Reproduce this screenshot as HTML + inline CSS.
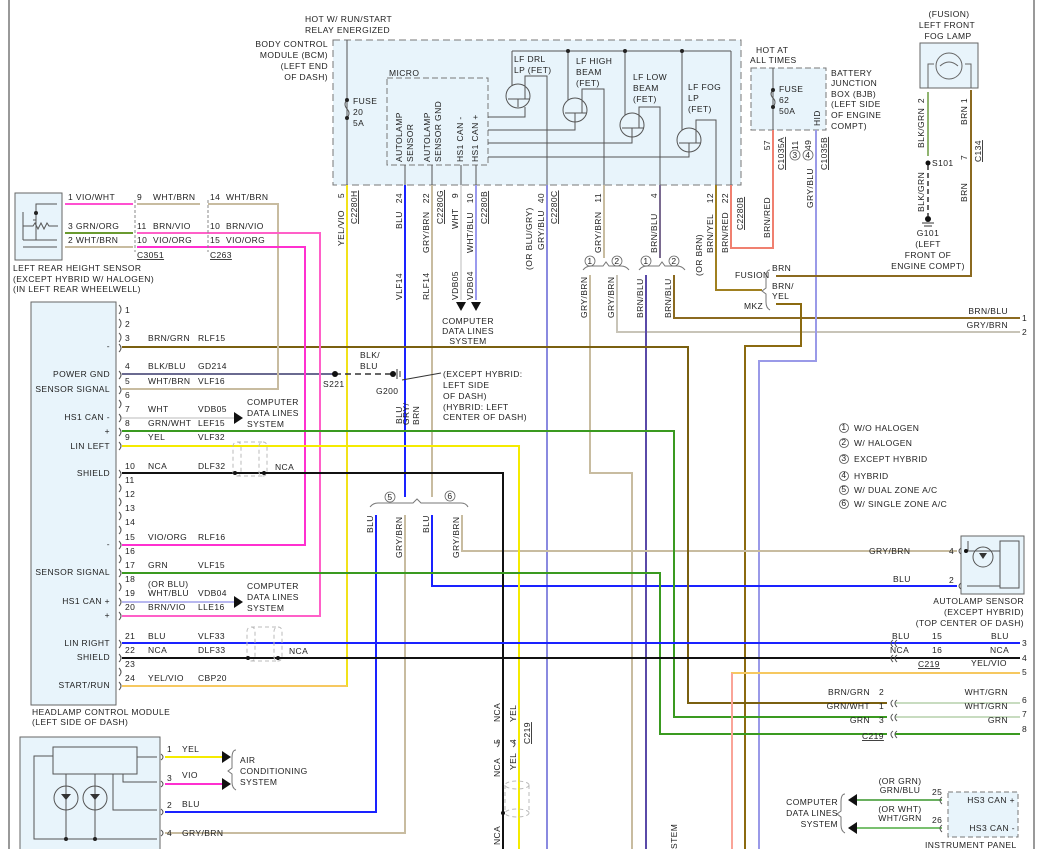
<!DOCTYPE html>
<html><head><meta charset="utf-8"><style>
html,body{margin:0;padding:0;background:#fff}
svg{display:block}
text{font-family:"Liberation Sans",sans-serif;font-size:8.5px;fill:#222;letter-spacing:0.4px}
.r{text-anchor:end}
.m{text-anchor:middle}
.u{text-decoration:underline}
</style></head><body>
<svg width="1039" height="849" viewBox="0 0 1039 849" xmlns="http://www.w3.org/2000/svg">
<rect width="1039" height="849" fill="#fff"/>
<line x1="9" y1="0" x2="9" y2="849" stroke="#333" stroke-width="1"/>
<line x1="1034" y1="0" x2="1034" y2="849" stroke="#333" stroke-width="1"/>

<!-- BCM box -->
<rect x="333" y="40" width="408" height="145" fill="#e8f4fb" stroke="#777" stroke-dasharray="7,4"/>
<rect x="387" y="78" width="101" height="87" fill="none" stroke="#777" stroke-dasharray="6,3"/>
<text x="305" y="22">HOT W/ RUN/START</text>
<text x="305" y="33">RELAY ENERGIZED</text>
<text class="r" x="328" y="47">BODY CONTROL</text>
<text class="r" x="328" y="58">MODULE (BCM)</text>
<text class="r" x="328" y="69">(LEFT END</text>
<text class="r" x="328" y="80">OF DASH)</text>
<text x="389" y="76">MICRO</text>
<g stroke="#555" fill="none" stroke-width="1">
<line x1="347" y1="40" x2="347" y2="185"/>
<path d="M347 100 q-4 4 0 9 q4 4 0 9"/>
<line x1="512" y1="51" x2="731" y2="51"/><line x1="731" y1="51" x2="731" y2="185"/>
<line x1="512" y1="51" x2="512" y2="86"/>
<line x1="568" y1="51" x2="568" y2="100"/>
<line x1="625" y1="51" x2="625" y2="115"/>
<line x1="682" y1="51" x2="682" y2="130"/>
<circle cx="518" cy="96" r="12"/><circle cx="575" cy="110" r="12"/><circle cx="632" cy="125" r="12"/><circle cx="689" cy="140" r="12"/>
<path d="M508 99h22M518 99v8M525 99v-23h22v109"/>
<path d="M565 113h22M575 113v10M582 113v-24h22v96"/>
<path d="M622 128h22M632 128v10M639 128v-21h21v78"/>
<path d="M679 143h22M689 143v10M696 143v-23h20v65"/>
<path d="M488 117h37v-10M488 130h87v-7M488 143h144v-5M488 157h201v-4"/>
<path d="M405 165v20M432 165v20M461 165v20M476 165v20"/>
</g>
<g fill="#222"><circle cx="347" cy="100" r="2"/><circle cx="347" cy="118" r="2"/><circle cx="568" cy="51" r="2"/><circle cx="625" cy="51" r="2"/><circle cx="682" cy="51" r="2"/></g>
<text x="353" y="104">FUSE</text><text x="353" y="115">20</text><text x="353" y="126">5A</text>
<text x="514" y="62">LF DRL</text><text x="514" y="73">LP (FET)</text>
<text x="576" y="64">LF HIGH</text><text x="576" y="75">BEAM</text><text x="576" y="86">(FET)</text>
<text x="633" y="80">LF LOW</text><text x="633" y="91">BEAM</text><text x="633" y="102">(FET)</text>
<text x="688" y="90">LF FOG</text><text x="688" y="101">LP</text><text x="688" y="112">(FET)</text>
<g>
<text transform="translate(402,162) rotate(-90)">AUTOLAMP</text><text transform="translate(413,162) rotate(-90)">SENSOR</text>
<text transform="translate(430,162) rotate(-90)">AUTOLAMP</text><text transform="translate(441,162) rotate(-90)">SENSOR GND</text>
<text transform="translate(463,162) rotate(-90)">HS1 CAN -</text><text transform="translate(478,162) rotate(-90)">HS1 CAN +</text>
</g>

<!-- Battery junction box -->
<rect x="751" y="68" width="75" height="62" fill="#e8f4fb" stroke="#777" stroke-dasharray="6,3"/>
<text x="756" y="53">HOT AT</text><text x="750" y="63">ALL TIMES</text>
<text x="831" y="76">BATTERY</text><text x="831" y="86">JUNCTION</text><text x="831" y="97">BOX (BJB)</text><text x="831" y="107">(LEFT SIDE</text><text x="831" y="118">OF ENGINE</text><text x="831" y="129">COMPT)</text>
<g stroke="#555" fill="none"><line x1="773" y1="68" x2="773" y2="130"/><path d="M773 90 q-4 4 0 8 q4 4 0 9"/></g>
<circle cx="773" cy="90" r="2" fill="#222"/><circle cx="773" cy="107" r="2" fill="#222"/>
<text x="779" y="92">FUSE</text><text x="779" y="103">62</text><text x="779" y="114">50A</text>
<text transform="translate(820,126) rotate(-90)">HID</text>

<!-- Fog lamp -->
<rect x="920" y="43" width="58" height="45" fill="#e8f4fb" stroke="#666"/>
<circle cx="949" cy="66" r="13" fill="none" stroke="#666"/>
<path d="M928 88v-24h6M971 88v-24h-6M940 66q9 -8 18 0" stroke="#666" fill="none"/>
<text class="m" x="949" y="17">(FUSION)</text><text class="m" x="947" y="28">LEFT FRONT</text><text class="m" x="948" y="39">FOG LAMP</text>
<line x1="928" y1="92" x2="928" y2="156" stroke="#6a9a40" stroke-width="1.5"/>
<line x1="928" y1="165" x2="928" y2="216" stroke="#333" stroke-width="1.5" stroke-dasharray="5,3"/>
<circle cx="928" cy="163" r="2.5" fill="#111"/><circle cx="928" cy="219" r="3" fill="#111"/>
<path d="M922 223h12M924 226h8" stroke="#333"/>
<text x="932" y="166">S101</text>
<text class="m" x="928" y="236">G101</text><text class="m" x="928" y="247">(LEFT</text><text class="m" x="928" y="258">FRONT OF</text><text class="m" x="928" y="269">ENGINE COMPT)</text>
<text transform="translate(924,98) rotate(-90)" class="r">2</text><text transform="translate(924,148) rotate(-90)">BLK/GRN</text>
<text transform="translate(924,212) rotate(-90)">BLK/GRN</text>
<text transform="translate(967,98) rotate(-90)" class="r">1</text><text transform="translate(967,125) rotate(-90)">BRN</text>
<text transform="translate(967,160) rotate(-90)">7</text><text class="u" transform="translate(981,162) rotate(-90)">C134</text>
<text transform="translate(967,202) rotate(-90)">BRN</text>

<!-- Wires under BCM -->
<g fill="none" stroke-width="2">
<path d="M347 185V686H122" stroke="#f2e21a"/>
<path d="M347 686H122" stroke="#f6c860"/>
<path d="M405 185V497" stroke="#1a22ff"/>
<path d="M432 185V497" stroke="#c8bca0"/>
<path d="M461 185V300" stroke="#ddd"/>
<path d="M476 185V300" stroke="#9a9aee"/>
<path d="M547 185V849" stroke="#8a8ae0"/>
<path d="M604 185V258" stroke="#c8bca0"/>
<path d="M590 275V473H632V849" stroke="#c8bca0"/>
<path d="M617 275V332H1020" stroke="#c8c4b8"/>
<path d="M660 185V258" stroke="#7a6a90"/>
<path d="M646 275V849" stroke="#5a4aa8"/>
<path d="M674 275V318H1020" stroke="#8b6a20"/>
<path d="M716 185V290H762" stroke="#a08020"/>
<path d="M731 185V248H773V130" stroke="#f08070"/>
<path d="M816 130V361H759V849" stroke="#9a9ae8"/>
<path d="M776 276H971V90" stroke="#8b6a20"/>
<path d="M776 304H801V346H745V849" stroke="#8b6a10"/>
<path d="M376 515V812H165" stroke="#1a22ff"/>
<path d="M405 515V833H165" stroke="#c8bca0"/>
<path d="M432 515V586H957" stroke="#1a22ff"/>
<path d="M462 515V551H957" stroke="#c8bca0"/>
<!-- HCM horizontals -->
<path d="M122 347H688V703H887" stroke="#7a6010"/>
<path d="M122 374H335" stroke="#6a6a90"/>
<path d="M122 389H278V204H208" stroke="#c8bca0"/>
<path d="M137 204H200" stroke="#c8bca0"/>
<path d="M65 204H133" stroke="#ff50d0"/>
<path d="M65 233H133" stroke="#6a9a30"/>
<path d="M65 247H133" stroke="#c8bca0"/>
<path d="M137 233H320V616H122" stroke="#ff60c8"/>
<path d="M137 247H305V545H122" stroke="#ff30d0"/>
<path d="M122 418H236" stroke="#ddd"/>
<path d="M122 431H674V717H887" stroke="#3a9a20"/>
<path d="M122 446H519V849" stroke="#f5eb00"/>
<path d="M122 473H503V849" stroke="#111"/>
<path d="M122 573H660V734H887" stroke="#3a9a20"/>
<path d="M122 602H236" stroke="#b8b8f0"/>
<path d="M122 643H1020" stroke="#1a22ff"/>
<path d="M122 658H1020" stroke="#111"/>
<path d="M732 849V673H1020" stroke="#f6c860"/>
<path d="M895 703H1020M895 717H1020" stroke="#c8dcc0"/>
<path d="M895 734H1020" stroke="#3a9a20"/>
<path d="M165 757H222" stroke="#f5eb00"/>
<path d="M165 784H222" stroke="#ff30d0"/>
<path d="M853 800H942" stroke="#6ab060"/>
<path d="M853 828H942" stroke="#7ac070"/>
</g>
<line x1="732" y1="673" x2="732" y2="849" stroke="#ff80d0" stroke-width="1"/>
<line x1="335" y1="374" x2="393" y2="374" stroke="#333" stroke-width="1.5" stroke-dasharray="6,4"/>
<circle cx="335" cy="374" r="3" fill="#111"/><circle cx="393" cy="374" r="3" fill="#111"/>
<path d="M397 369v10M400 371v6" stroke="#333"/>
<path d="M441 373L402 380" stroke="#333"/>
<text x="323" y="387">S221</text><text x="376" y="394">G200</text>
<text x="360" y="358">BLK/</text><text x="360" y="369">BLU</text>
<text x="443" y="377">(EXCEPT HYBRID:</text><text x="443" y="388">LEFT SIDE</text><text x="443" y="399">OF DASH)</text><text x="443" y="410">(HYBRID: LEFT</text><text x="443" y="420">CENTER OF DASH)</text>

<!-- arrows -->
<g fill="#111">
<path d="M456 302h10l-5 9z"/><path d="M471 302h10l-5 9z"/>
<path d="M234 412v12l9-6z"/><path d="M234 596v12l9-6z"/>
<path d="M222 751v12l9-6z"/><path d="M222 778v12l9-6z"/>
<path d="M857 794v12l-9-6z"/><path d="M857 822v12l-9-6z"/>
</g>
<text class="m" x="468" y="324">COMPUTER</text><text class="m" x="468" y="334">DATA LINES</text><text class="m" x="468" y="344">SYSTEM</text>
<text x="247" y="405">COMPUTER</text><text x="247" y="416">DATA LINES</text><text x="247" y="427">SYSTEM</text>
<text x="247" y="589">COMPUTER</text><text x="247" y="600">DATA LINES</text><text x="247" y="611">SYSTEM</text>

<!-- braces -->
<g stroke="#777" fill="none">
<path d="M583 270q3-4 8-4h12l3-4l3 4h12q5 0 8 4"/>
<path d="M639 270q3-4 8-4h12l3-4l3 4h12q5 0 8 4"/>
<path d="M370 507q3-4 8-4h35l4-4l4 4h40q5 0 7 4"/>
<path d="M770 270q-4 0-4 8v10l-4 3l4 3v8q0 6 4 8"/>
<path d="M236 750q-4 0-4 8v10l-4 3l4 3v8q0 6 4 8"/>
<path d="M845 794q-4 0-4 8v9l-4 3l4 3v8q0 6 4 8"/>
</g>
<g fill="none" stroke="#666" stroke-width="0.8">
<circle cx="590" cy="261" r="5"/><circle cx="617" cy="261" r="5"/><circle cx="646" cy="261" r="5"/><circle cx="674" cy="261" r="5"/>
<circle cx="390" cy="497" r="5"/><circle cx="450" cy="496" r="5"/>
<circle cx="795" cy="155" r="5"/><circle cx="808" cy="155" r="5"/>
</g>
<g style="font-size:7px">
<text class="m" x="590" y="264">1</text><text class="m" x="617" y="264">2</text><text class="m" x="646" y="264">1</text><text class="m" x="674" y="264">2</text>
<text class="m" x="390" y="500">5</text><text class="m" x="450" y="499">6</text>
<text class="m" x="795" y="158">3</text><text class="m" x="808" y="158">4</text>
</g>
<text x="735" y="278">FUSION</text><text x="772" y="271">BRN</text><text x="772" y="289">BRN/</text><text x="772" y="299">YEL</text><text x="744" y="309">MKZ</text>

<!-- rotated wire labels under BCM -->
<g>
<text transform="translate(344,193) rotate(-90)" class="r">5</text><text transform="translate(344,246) rotate(-90)">YEL/VIO</text><text class="u" transform="translate(357,224) rotate(-90)">C2280H</text>
<text transform="translate(402,193) rotate(-90)" class="r">24</text><text transform="translate(402,229) rotate(-90)">BLU</text>
<text transform="translate(429,193) rotate(-90)" class="r">22</text><text transform="translate(429,253) rotate(-90)">GRY/BRN</text><text class="u" transform="translate(443,224) rotate(-90)">C2280G</text>
<text transform="translate(458,193) rotate(-90)" class="r">9</text><text transform="translate(458,229) rotate(-90)">WHT</text>
<text transform="translate(473,193) rotate(-90)" class="r">10</text><text transform="translate(473,253) rotate(-90)">WHT/BLU</text><text class="u" transform="translate(487,224) rotate(-90)">C2280B</text>
<text transform="translate(402,300) rotate(-90)">VLF14</text><text transform="translate(429,300) rotate(-90)">RLF14</text>
<text transform="translate(458,300) rotate(-90)">VDB05</text><text transform="translate(473,300) rotate(-90)">VDB04</text>
<text transform="translate(544,193) rotate(-90)" class="r">40</text><text transform="translate(532,270) rotate(-90)">(OR BLU/GRY)</text><text transform="translate(544,250) rotate(-90)">GRY/BLU</text><text class="u" transform="translate(557,224) rotate(-90)">C2280C</text>
<text transform="translate(601,193) rotate(-90)" class="r">11</text><text transform="translate(601,253) rotate(-90)">GRY/BRN</text>
<text transform="translate(657,193) rotate(-90)" class="r">4</text><text transform="translate(657,253) rotate(-90)">BRN/BLU</text>
<text transform="translate(702,276) rotate(-90)">(OR BRN)</text><text transform="translate(713,253) rotate(-90)">BRN/YEL</text><text transform="translate(713,193) rotate(-90)" class="r">12</text>
<text transform="translate(728,193) rotate(-90)" class="r">22</text><text transform="translate(728,253) rotate(-90)">BRN/RED</text><text class="u" transform="translate(743,230) rotate(-90)">C2280B</text>
<text transform="translate(770,140) rotate(-90)" class="r">57</text><text transform="translate(770,238) rotate(-90)">BRN/RED</text><text class="u" transform="translate(784,170) rotate(-90)">C1035A</text>
<text transform="translate(798,150) rotate(-90)">11</text><text transform="translate(811,150) rotate(-90)">49</text>
<text transform="translate(813,208) rotate(-90)">GRY/BLU</text><text class="u" transform="translate(827,170) rotate(-90)">C1035B</text>
<text transform="translate(587,318) rotate(-90)">GRY/BRN</text><text transform="translate(614,318) rotate(-90)">GRY/BRN</text>
<text transform="translate(643,318) rotate(-90)">BRN/BLU</text><text transform="translate(671,318) rotate(-90)">BRN/BLU</text>
<text transform="translate(402,424) rotate(-90)">BLU</text><text transform="translate(409,425) rotate(-90)">GRY/</text><text transform="translate(419,425) rotate(-90)">BRN</text>
<text transform="translate(373,533) rotate(-90)">BLU</text><text transform="translate(402,558) rotate(-90)">GRY/BRN</text>
<text transform="translate(429,533) rotate(-90)">BLU</text><text transform="translate(459,558) rotate(-90)">GRY/BRN</text>
<text transform="translate(500,722) rotate(-90)">NCA</text><text transform="translate(516,722) rotate(-90)">YEL</text>
<text transform="translate(500,744) rotate(-90)">5</text><text transform="translate(516,744) rotate(-90)">4</text><text class="u" transform="translate(530,744) rotate(-90)">C219</text>
<text transform="translate(500,777) rotate(-90)">NCA</text><text transform="translate(516,770) rotate(-90)">YEL</text>
<text transform="translate(500,845) rotate(-90)">NCA</text>
<text transform="translate(677,849) rotate(-90)">STEM</text>
</g>
<path d="M497 747q4-3 0-6M513 747q4-3 0-6" stroke="#555" fill="none"/>
<g stroke="#bbb" fill="none" stroke-dasharray="4,3">
<ellipse cx="517" cy="785" rx="12" ry="4"/><ellipse cx="517" cy="813" rx="12" ry="4"/>
<path d="M505 785v28M529 785v28"/>
<rect x="233" y="442" width="8" height="34" rx="4"/><rect x="259" y="442" width="8" height="34" rx="4"/><path d="M237 442h26M237 476h26"/>
<rect x="247" y="627" width="8" height="34" rx="4"/><rect x="274" y="627" width="8" height="34" rx="4"/><path d="M251 627h27M251 661h27"/>
</g>
<circle cx="235" cy="473" r="2" fill="#111"/><circle cx="264" cy="473" r="2" fill="#111"/>
<circle cx="248" cy="658" r="2" fill="#111"/><circle cx="278" cy="658" r="2" fill="#111"/>
<circle cx="503" cy="813" r="2" fill="#111"/>
<text x="275" y="470">NCA</text><text x="289" y="654">NCA</text>

<!-- Left rear height sensor -->
<rect x="15" y="193" width="47" height="67" fill="#e8f4fb" stroke="#666"/>
<path d="M57 204H36v36M23 212v28M23 240h34M23 226h10l2-3 3 6 3-6 3 6 3-6 2 3h9M23 247h34M36 220l-3 0" stroke="#555" fill="none"/>
<circle cx="36" cy="213" r="2" fill="#222"/>
<text x="68" y="200">1  VIO/WHT</text><text x="68" y="229">3  GRN/ORG</text><text x="68" y="243">2  WHT/BRN</text>
<text x="137" y="200">9</text><text x="153" y="200">WHT/BRN</text><text x="210" y="200">14</text><text x="226" y="200">WHT/BRN</text>
<text x="137" y="229">11</text><text x="153" y="229">BRN/VIO</text><text x="210" y="229">10</text><text x="226" y="229">BRN/VIO</text>
<text x="137" y="243">10</text><text x="153" y="243">VIO/ORG</text><text x="210" y="243">15</text><text x="226" y="243">VIO/ORG</text>
<text class="u" x="137" y="258">C3051</text><text class="u" x="210" y="258">C263</text>
<g stroke="#888" fill="none"><path d="M135 200v52M208 200v52" stroke-dasharray="3,2"/></g>
<text x="13" y="271">LEFT REAR HEIGHT SENSOR</text><text x="13" y="282">(EXCEPT HYBRID W/ HALOGEN)</text><text x="13" y="292">(IN LEFT REAR WHEELWELL)</text>

<!-- HCM -->
<rect x="31" y="302" width="85" height="403" fill="#e8f4fb" stroke="#666"/>
<g stroke="#555" fill="none">
<path d="M119 305q4 4 0 9M119 319q4 4 0 9M119 333q4 4 0 9M119 344q4 4 0 8M119 371q4 4 0 8M119 386q4 4 0 8M119 400q4 4 0 8M119 414q4 4 0 8M119 428q4 4 0 8M119 442q4 4 0 8M119 470q4 4 0 8M119 484q4 4 0 8M119 498q4 4 0 8M119 512q4 4 0 8M119 526q4 4 0 8M119 541q4 4 0 8M119 555q4 4 0 8M119 569q4 4 0 8M119 583q4 4 0 8M119 598q4 4 0 8M119 612q4 4 0 8M119 640q4 4 0 8M119 654q4 4 0 8M119 668q4 4 0 8M119 682q4 4 0 8"/>
</g>
<g>
<text x="125" y="313">1</text><text x="125" y="327">2</text><text x="125" y="341">3</text><text x="148" y="341">BRN/GRN</text><text x="198" y="341">RLF15</text>
<text x="125" y="369">4</text><text x="148" y="369">BLK/BLU</text><text x="198" y="369">GD214</text>
<text x="125" y="384">5</text><text x="148" y="384">WHT/BRN</text><text x="198" y="384">VLF16</text>
<text x="125" y="398">6</text>
<text x="125" y="412">7</text><text x="148" y="412">WHT</text><text x="198" y="412">VDB05</text>
<text x="125" y="426">8</text><text x="148" y="426">GRN/WHT</text><text x="198" y="426">LEF15</text>
<text x="125" y="440">9</text><text x="148" y="440">YEL</text><text x="198" y="440">VLF32</text>
<text x="125" y="469">10</text><text x="148" y="469">NCA</text><text x="198" y="469">DLF32</text>
<text x="125" y="483">11</text><text x="125" y="497">12</text><text x="125" y="511">13</text><text x="125" y="525">14</text>
<text x="125" y="540">15</text><text x="148" y="540">VIO/ORG</text><text x="198" y="540">RLF16</text>
<text x="125" y="554">16</text>
<text x="125" y="568">17</text><text x="148" y="568">GRN</text><text x="198" y="568">VLF15</text>
<text x="125" y="582">18</text><text x="148" y="587">(OR BLU)</text>
<text x="125" y="596">19</text><text x="148" y="596">WHT/BLU</text><text x="198" y="596">VDB04</text>
<text x="125" y="610">20</text><text x="148" y="610">BRN/VIO</text><text x="198" y="610">LLE16</text>
<text x="125" y="639">21</text><text x="148" y="639">BLU</text><text x="198" y="639">VLF33</text>
<text x="125" y="653">22</text><text x="148" y="653">NCA</text><text x="198" y="653">DLF33</text>
<text x="125" y="667">23</text>
<text x="125" y="681">24</text><text x="148" y="681">YEL/VIO</text><text x="198" y="681">CBP20</text>
</g>
<g>
<text class="r" x="110" y="349">-</text><text class="r" x="110" y="377">POWER GND</text><text class="r" x="110" y="392">SENSOR SIGNAL</text>
<text class="r" x="110" y="420">HS1 CAN -</text><text class="r" x="110" y="434">+</text><text class="r" x="110" y="449">LIN LEFT</text>
<text class="r" x="110" y="476">SHIELD</text><text class="r" x="110" y="547">-</text><text class="r" x="110" y="575">SENSOR SIGNAL</text>
<text class="r" x="110" y="604">HS1 CAN +</text><text class="r" x="110" y="618">+</text><text class="r" x="110" y="646">LIN RIGHT</text>
<text class="r" x="110" y="660">SHIELD</text><text class="r" x="110" y="688">START/RUN</text>
</g>
<text x="32" y="715">HEADLAMP CONTROL MODULE</text><text x="32" y="725">(LEFT SIDE OF DASH)</text>

<!-- AC module -->
<rect x="20" y="737" width="140" height="115" fill="#e8f4fb" stroke="#666"/>
<rect x="53" y="747" width="84" height="27" fill="#e8f4fb" stroke="#555"/>
<g stroke="#555" fill="none">
<path d="M137 757h20M53 756H34v83h123M66 774v65M95 774v65M123 774v8h34M113 774v36h44"/>
<circle cx="66" cy="798" r="12"/><circle cx="95" cy="798" r="12"/>
<path d="M161 754q4 3 0 6M161 781q4 3 0 6M161 809q4 3 0 6M161 830q4 3 0 6"/>
</g>
<path d="M61 794h10l-5 6zM90 794h10l-5 6z" fill="#333"/>
<circle cx="66" cy="839" r="2" fill="#222"/><circle cx="95" cy="839" r="2" fill="#222"/>
<text x="167" y="752">1</text><text x="182" y="752">YEL</text>
<text x="167" y="781">3</text><text x="182" y="778">VIO</text>
<text x="167" y="808">2</text><text x="182" y="807">BLU</text>
<text x="167" y="836">4</text><text x="182" y="836">GRY/BRN</text>
<text x="240" y="763">AIR</text><text x="240" y="774">CONDITIONING</text><text x="240" y="785">SYSTEM</text>

<!-- legend -->
<g fill="none" stroke="#555" stroke-width="0.8"><circle cx="844" cy="428" r="4.5"/><circle cx="844" cy="443" r="4.5"/><circle cx="844" cy="459" r="4.5"/><circle cx="844" cy="476" r="4.5"/><circle cx="844" cy="490" r="4.5"/><circle cx="844" cy="504" r="4.5"/></g>
<g style="font-size:6.5px"><text class="m" x="844" y="430">1</text><text class="m" x="844" y="445">2</text><text class="m" x="844" y="461">3</text><text class="m" x="844" y="478">4</text><text class="m" x="844" y="492">5</text><text class="m" x="844" y="506">6</text></g>
<text x="854" y="431">W/O HALOGEN</text><text x="854" y="446">W/ HALOGEN</text><text x="854" y="462">EXCEPT HYBRID</text><text x="854" y="479">HYBRID</text><text x="854" y="493">W/ DUAL ZONE A/C</text><text x="854" y="507">W/ SINGLE ZONE A/C</text>

<!-- autolamp sensor -->
<rect x="961" y="536" width="63" height="58" fill="#e8f4fb" stroke="#666"/>
<rect x="1000" y="541" width="19" height="47" fill="#e8f4fb" stroke="#555"/>
<circle cx="983" cy="557" r="10" fill="none" stroke="#555"/>
<path d="M967 551h33M967 586h33M968 541v10" stroke="#555" fill="none"/>
<path d="M979 553h8l-4 6z" fill="#333"/><circle cx="966" cy="551" r="2" fill="#111"/>
<path d="M961 548q-4 3 0 6M961 583q-4 3 0 6" stroke="#555" fill="none"/>
<text x="869" y="554">GRY/BRN</text><text x="893" y="582">BLU</text>
<text x="949" y="554">4</text><text x="949" y="583">2</text>
<text class="r" x="1024" y="604">AUTOLAMP SENSOR</text><text class="r" x="1024" y="615">(EXCEPT HYBRID)</text><text class="r" x="1024" y="626">(TOP CENTER OF DASH)</text>

<!-- right connectors -->
<g stroke="#555" fill="none">
<path d="M893 640q-4 3 0 7M897 640q-4 3 0 7M893 655q-4 3 0 7M897 655q-4 3 0 7"/>
<path d="M893 700q-4 3 0 7M897 700q-4 3 0 7M893 714q-4 3 0 7M897 714q-4 3 0 7M893 731q-4 3 0 7M897 731q-4 3 0 7"/>
<path d="M942 797q-4 3 0 7M942 825q-4 3 0 7"/>
</g>
<text x="892" y="639">BLU</text><text x="932" y="639">15</text><text x="991" y="639">BLU</text>
<text x="890" y="653">NCA</text><text x="932" y="653">16</text><text x="990" y="653">NCA</text>
<text class="u" x="918" y="667">C219</text><text x="971" y="666">YEL/VIO</text>
<text class="r" x="1008" y="314">BRN/BLU</text><text class="r" x="1008" y="328">GRY/BRN</text>
<text x="1022" y="321">1</text><text x="1022" y="335">2</text><text x="1022" y="646">3</text><text x="1022" y="661">4</text><text x="1022" y="675">5</text>
<text x="1022" y="703">6</text><text x="1022" y="717">7</text><text x="1022" y="732">8</text>
<text class="r" x="870" y="695">BRN/GRN</text><text x="879" y="695">2</text><text class="r" x="1008" y="695">WHT/GRN</text>
<text class="r" x="870" y="709">GRN/WHT</text><text x="879" y="709">1</text><text class="r" x="1008" y="709">WHT/GRN</text>
<text class="r" x="870" y="723">GRN</text><text x="879" y="723">3</text><text class="r" x="1008" y="723">GRN</text>
<text class="u" x="862" y="739">C219</text>

<!-- instrument panel -->
<rect x="948" y="792" width="70" height="45" fill="#e8f4fb" stroke="#777" stroke-dasharray="5,3"/>
<text class="r" x="1015" y="803">HS3 CAN +</text><text class="r" x="1015" y="831">HS3 CAN -</text>
<text x="932" y="795">25</text><text x="932" y="823">26</text>
<text class="m" x="900" y="784">(OR GRN)</text><text class="m" x="900" y="793">GRN/BLU</text>
<text class="m" x="900" y="812">(OR WHT)</text><text class="m" x="900" y="821">WHT/GRN</text>
<text class="r" x="838" y="805">COMPUTER</text><text class="r" x="838" y="816">DATA LINES</text><text class="r" x="838" y="827">SYSTEM</text>
<text x="925" y="848">INSTRUMENT PANEL</text>
</svg>
</body></html>
